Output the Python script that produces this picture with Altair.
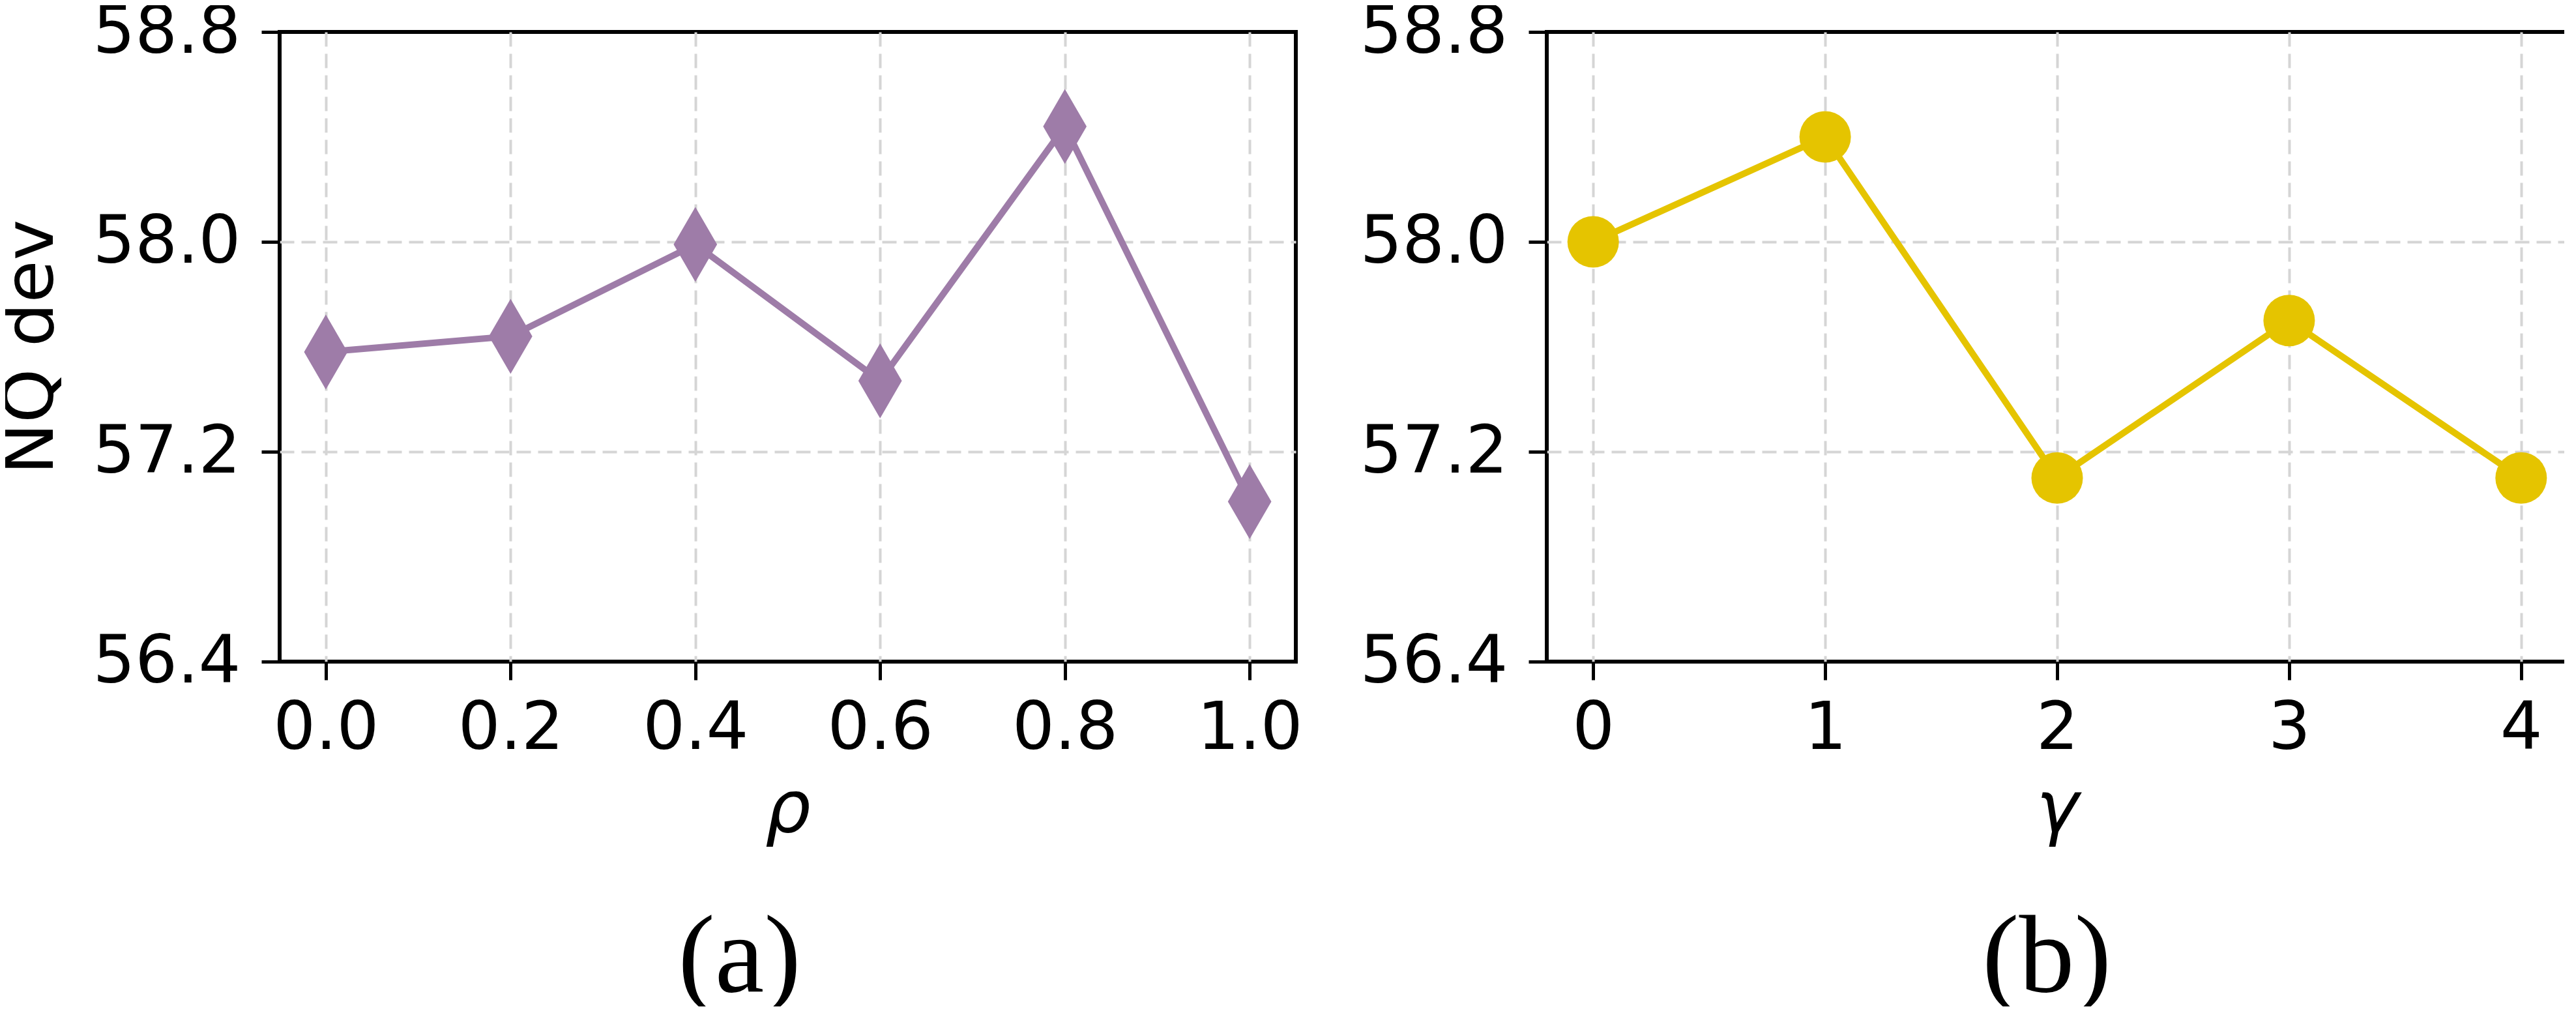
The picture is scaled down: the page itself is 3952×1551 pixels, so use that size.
import altair as alt
import pandas as pd

# ---- data ----
rho = [0.0, 0.2, 0.4, 0.6, 0.8, 1.0]
nq_rho = [57.58, 57.64, 57.99, 57.47, 58.44, 57.01]
gamma = [0, 1, 2, 3, 4]
nq_gamma = [58.00, 58.40, 57.10, 57.70, 57.10]

y_ticks = [56.4, 57.2, 58.0, 58.8]
rho_ticks = [0.0, 0.2, 0.4, 0.6, 0.8, 1.0]
gamma_ticks = [0, 1, 2, 3, 4]

purple = "#9e7ca8"
yellow = "#e5c400"
FONT = "DejaVu Sans"
SERIF = "Liberation Serif"

df_a = pd.DataFrame({"rho": rho, "nq": nq_rho})
df_b = pd.DataFrame({"gamma": gamma, "nq": nq_gamma})

common_axis = dict(
    labelFont=FONT, labelFontSize=102, labelColor="black", labelLimit=1000,
    tickSize=28, tickWidth=5, tickColor="black",
    domain=False, gridColor="#d5d5d5", gridWidth=4, gridDash=[22, 11],
    labelOverlap=False, labelFlush=False,
)

def y_axis(title):
    kw = dict(common_axis)
    kw.update(values=y_ticks, format=".1f", labelPadding=32,
              gridOpacity={"condition": {"test": "datum.value <= 56.41 || datum.value >= 58.79",
                                         "value": 0}, "value": 1})
    if title:
        kw.update(title=title, titleFont=FONT, titleFontSize=106,
                  titleFontWeight="normal", titlePadding=127, titleColor="black")
    else:
        kw.update(title=None)
    return alt.Axis(**kw)

def x_axis(values, fmt, title):
    kw = dict(common_axis)
    kw.update(values=values, format=fmt, labelPadding=24, title=title,
              titleFont=FONT, titleFontSize=110, titleFontStyle="italic",
              titleFontWeight="normal", titlePadding=20, titleColor="black")
    return alt.Axis(**kw)

yscale = alt.Scale(domain=[56.4, 58.8], nice=False, zero=False)

PW_A, PW_B, PH = 1559, 1566, 966

# ---- panel (a) ----
base_a = alt.Chart(df_a).encode(
    x=alt.X("rho:Q", scale=alt.Scale(domain=[-0.05, 1.05], nice=False, zero=False),
            axis=x_axis(rho_ticks, ".1f", "ρ")),
    y=alt.Y("nq:Q", scale=yscale, axis=y_axis("NQ dev")),
)
line_a = base_a.mark_line(color=purple, strokeWidth=10)
pts_a = base_a.mark_point(shape="M0,-1L0.58,0L0,1L-0.58,0Z", size=13225,
                          filled=True, color=purple, opacity=1)
panel_a = alt.layer(line_a, pts_a).properties(
    width=PW_A, height=PH,
    title=alt.TitleParams("(a)", orient="bottom", frame="group", anchor="middle",
                          dx=-74, offset=90, font=SERIF, fontSize=170,
                          fontWeight="normal", color="black"),
)

# ---- panel (b) ----
base_b = alt.Chart(df_b).encode(
    x=alt.X("gamma:Q", scale=alt.Scale(domain=[-0.2, 4.2], nice=False, zero=False),
            axis=x_axis(gamma_ticks, "d", "γ")),
    y=alt.Y("nq:Q", scale=yscale, axis=y_axis(None)),
)
line_b = base_b.mark_line(color=yellow, strokeWidth=10)
pts_b = base_b.mark_point(shape="circle", size=6241, filled=True, color=yellow, opacity=1)
panel_b = alt.layer(line_b, pts_b).properties(
    width=PW_B, height=PH,
    title=alt.TitleParams("(b)", orient="bottom", frame="group", anchor="middle",
                          dx=-16, offset=90, font=SERIF, fontSize=170,
                          fontWeight="normal", color="black"),
)

chart = alt.hconcat(panel_a, panel_b, spacing=385, bounds="flush").properties(
    padding={"left": -16, "top": -13, "right": -8, "bottom": -14},
    background="white",
).configure_view(stroke="black", strokeWidth=6)

chart.save("out.html", embed_options={"renderer": "svg", "actions": False})
